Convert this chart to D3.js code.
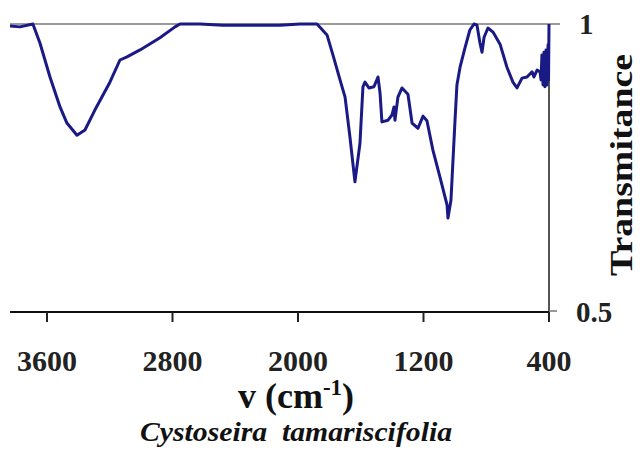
<!DOCTYPE html>
<html>
<head>
<meta charset="utf-8">
<script src="https://cdn.jsdelivr.net/npm/d3@7"></script>
<style>
  body { margin: 0; background: #fff; }
  svg { display: block; }
</style>
</head>
<body>
<div id="chart"></div>
<script>
// FTIR spectrum
var wavenumber = [3836, 3772, 3690, 3645, 3581, 3517, 3473, 3409, 3358, 3294, 3199, 3135, 3090, 3007, 2880, 2784, 2752,
  2625, 2478, 2262, 2115, 1987, 1879, 1815, 1777, 1732, 1700, 1669, 1637, 1605, 1586, 1573, 1548, 1516, 1490, 1477,
  1465, 1426, 1401, 1388, 1382, 1363, 1337, 1299, 1273, 1235, 1203, 1178, 1140, 1095, 1050, 1044, 1025, 999, 987,
  967, 936, 904, 878, 859, 840, 827, 814, 789, 757, 712, 668, 630, 604, 572, 540, 508, 496, 476, 457,
  451, 445, 438, 432, 426, 419, 413, 406, 403, 400];
var transmittance = [0.9965, 0.995, 1.0, 0.967, 0.908, 0.856, 0.828, 0.807, 0.816, 0.851, 0.899, 0.9375, 0.943, 0.955, 0.976, 0.995, 1.0,
  1.0, 0.998, 0.998, 0.998, 1.0, 1.0, 0.981, 0.946, 0.903, 0.873, 0.804, 0.726, 0.793, 0.891, 0.899, 0.889, 0.891, 0.908, 0.880,
  0.830, 0.833, 0.842, 0.856, 0.833, 0.873, 0.889, 0.878, 0.828, 0.819, 0.840, 0.832, 0.781, 0.734, 0.686, 0.663, 0.694, 0.833, 0.894,
  0.925, 0.958, 0.990, 1.0, 0.998, 0.967, 0.951, 0.977, 0.993, 0.986, 0.965, 0.925, 0.899, 0.889, 0.906, 0.908, 0.917, 0.908, 0.920, 0.917,
  0.903, 0.946, 0.894, 0.951, 0.891, 0.955, 0.894, 0.964, 0.903, 1.0];
var xTicks = [3600, 2800, 2000, 1200, 400];
var yTicks = [1, 0.5];

var width = 640, height = 455;
var plotLeft = 10, plotRight = 549, plotTop = 24, plotBottom = 312;

var svg = d3.select("#chart").append("svg")
    .attr("width", width)
    .attr("height", height);

var x = d3.scaleLinear().domain([3600, 400]).range([47, plotRight]);
var y = d3.scaleLinear().domain([0.5, 1]).range([plotBottom, plotTop]);

svg.append("defs").append("clipPath")
    .attr("id", "plot")
    .append("rect")
    .attr("x", plotLeft).attr("y", 0)
    .attr("width", plotRight - plotLeft + 2).attr("height", plotBottom);

// top frame line
svg.append("line")
    .attr("x1", plotLeft).attr("x2", plotRight + 11)
    .attr("y1", y(1)).attr("y2", y(1))
    .style("stroke", "#7a7a7a").style("stroke-width", 1.6);

// right axis
svg.append("line")
    .attr("x1", plotRight).attr("x2", plotRight)
    .attr("y1", y(1)).attr("y2", y(0.5) + 10)
    .style("stroke", "#555").style("stroke-width", 2);
svg.append("line")
    .attr("x1", plotRight).attr("x2", plotRight + 8)
    .attr("y1", y(0.5) - 1).attr("y2", y(0.5) - 1)
    .style("stroke", "#777").style("stroke-width", 1.5);

svg.selectAll(".ylab").data(yTicks).enter().append("text")
    .attr("x", function (d) { return d === 1 ? 579 : 576; })
    .attr("y", function (d) { return y(d) + 10; })
    .style("font-family", "'Liberation Serif', serif")
    .style("font-weight", "bold")
    .style("font-size", "29px")
    .style("fill", "#222")
    .text(function (d) { return d === 1 ? "1" : "0.5"; });

// bottom axis
var xAxis = svg.append("g")
    .attr("transform", "translate(0," + plotBottom + ")");
xAxis.append("line")
    .attr("x1", plotLeft).attr("x2", plotRight)
    .style("stroke", "#111").style("stroke-width", 2.2);
xAxis.selectAll(".tick").data(xTicks).enter().append("line")
    .attr("x1", function (d) { return x(d); })
    .attr("x2", function (d) { return x(d); })
    .attr("y1", 0).attr("y2", 10)
    .style("stroke", "#222").style("stroke-width", 2);
xAxis.selectAll(".lab").data(xTicks).enter().append("text")
    .attr("x", function (d) { return x(d); })
    .attr("y", 59)
    .attr("text-anchor", "middle")
    .style("font-family", "'Liberation Serif', serif")
    .style("font-weight", "bold")
    .style("font-size", "30px")
    .style("fill", "#222")
    .text(function (d) { return d; });

// spectrum
var line = d3.line()
    .x(function (d, i) { return x(wavenumber[i]); })
    .y(function (d) { return y(d); });

svg.append("path")
    .datum(transmittance)
    .attr("clip-path", "url(#plot)")
    .attr("d", line)
    .style("fill", "none")
    .style("stroke", "#1a1a86")
    .style("stroke-width", 3)
    .style("stroke-linejoin", "round");

// axis titles
var xt = svg.append("text")
    .attr("x", 296).attr("y", 408)
    .attr("text-anchor", "middle")
    .style("font-family", "'Liberation Serif', serif")
    .style("font-weight", "bold")
    .style("font-size", "36px")
    .style("fill", "#111");
xt.append("tspan").text("v (cm");
xt.append("tspan").attr("dy", -13).style("font-size", "23px").text("-1");
xt.append("tspan").attr("dy", 13).text(")");

svg.append("text")
    .attr("transform", "translate(632,165) rotate(-90)")
    .attr("text-anchor", "middle")
    .attr("textLength", 222)
    .attr("lengthAdjust", "spacingAndGlyphs")
    .style("font-family", "'Liberation Serif', serif")
    .style("font-weight", "bold")
    .style("font-size", "32px")
    .style("fill", "#111")
    .text("Transmitance");

svg.append("text")
    .attr("x", 296).attr("y", 441)
    .attr("text-anchor", "middle")
    .attr("textLength", 312)
    .attr("lengthAdjust", "spacingAndGlyphs")
    .style("font-family", "'Liberation Serif', serif")
    .style("font-weight", "bold")
    .style("font-style", "italic")
    .style("font-size", "27px")
    .style("white-space", "pre")
    .style("fill", "#111")
    .text("Cystoseira  tamariscifolia");
</script>
</body>
</html>
